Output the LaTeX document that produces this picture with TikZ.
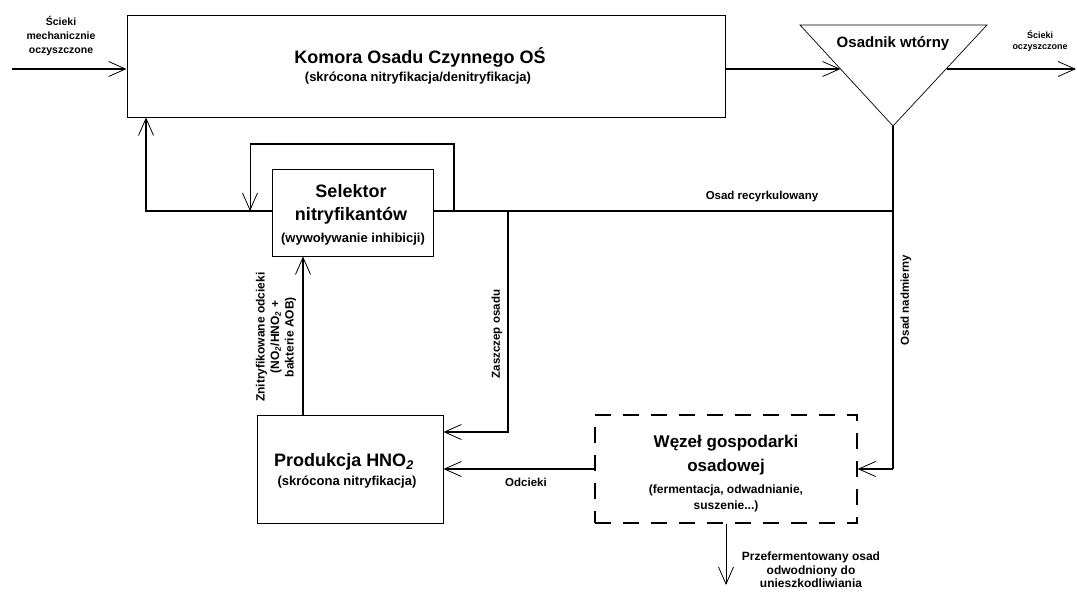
\documentclass[tikz,border=0pt]{standalone}
\usepackage{fontspec}
\setmainfont{Liberation Sans}
\usetikzlibrary{arrows.meta,calc}
\begin{document}
\begin{tikzpicture}[x=1pt,y=-1pt,
  box/.style={draw,line width=0.9pt,rectangle,inner sep=0pt},
  conn/.style={line width=1.6pt,-{Straight Barb[length=17pt,width=15pt,line width=0.8pt]}},
  thinconn/.style={line width=0.9pt,-{Straight Barb[length=17pt,width=15pt,line width=0.8pt]}},
  plain/.style={line width=1.6pt},
  lbl/.style={font=\bfseries\fontsize{11.5}{13.5}\selectfont,align=center,inner sep=0pt},
  big/.style={font=\bfseries\fontsize{18}{23}\selectfont,align=center,inner sep=0pt},
  sub/.style={font=\bfseries\fontsize{13}{16}\selectfont,align=center,inner sep=0pt}]
\useasboundingbox (0,0) rectangle (1077,592);
% main box
\node[box,minimum width=598pt,minimum height=102pt] (komora) at (426,66) {};
\node[big] (komt) at (420,57) {Komora Osadu Czynnego OŚ};
\node[sub] (koms) at (418,78) {(skrócona nitryfikacja/denitryfikacja)};
% osadnik
\coordinate (tl) at (800,25);
\coordinate (tr) at (987,25);
\coordinate (apex) at (893,126);
\draw[line width=0.7pt] (tl) -- (tr) -- (apex) -- cycle;
\node[big,font=\bfseries\fontsize{15}{18}\selectfont] (osadnik) at (893,44) {Osadnik wtórny};
\coordinate (trin) at (840.5,69);
\coordinate (trout) at (946.5,69);
% selector
\node[box,minimum width=161pt,minimum height=87pt] (sel) at (352.5,212.5) {};
\node[big] (selt) at (351,204.5) {Selektor\\nitryfikantów};
\node[sub] (sels) at (353,239) {(wywoływanie inhibicji)};
% produkcja
\node[box,minimum width=186pt,minimum height=108pt] (prod) at (350,469) {};
\node[big] (prodt) at (344,462) {Produkcja HNO\textsubscript{\itshape 2}};
\node[sub] (prods) at (347,482) {(skrócona nitryfikacja)};
% wezel
\node[box,dashed,line width=1.3pt,dash pattern=on 16pt off 12pt,minimum width=262pt,minimum height=108pt] (wezel) at (726,469) {};
\node[big,font=\bfseries\fontsize{17}{24}\selectfont] (wezt) at (726,455) {Węzeł gospodarki\\osadowej};
\node[sub,font=\bfseries\fontsize{12}{16}\selectfont] (wezs) at (726,498) {(fermentacja, odwadnianie,\\suszenie...)};
% coordinates
\coordinate (in) at (12,69);
\coordinate (out) at (1076,69);
\coordinate (j1) at (893,211);
\coordinate (j2) at (893,469);
\coordinate (k1) at (146,211);
\coordinate (l1) at (454,211);
\coordinate (l2) at (454,144);
\coordinate (l3) at (250,144);
\coordinate (l4) at (250,211);
\coordinate (z1) at (508,211);
\coordinate (z2) at (508,432);
\coordinate (n1) at (303,415);
\coordinate (wout) at (726,585);
% connectors
\draw[conn] (in) -- (in -| komora.west);
\draw[conn] (komora.east |- trin) -- (trin);
\draw[conn] (trout) -- (out);
\draw[plain] (apex) -- (j2);
\draw[conn] (j2) -- (wezel.east);
\draw[plain] (j1) -- (sel.east |- j1);
\draw[conn] (sel.west |- k1) -- (k1) -- (k1 |- komora.south);
\draw[plain,line join=miter] (l1) -- (l2) -- (l3);
\draw[thinconn] (l3) -- (l4);
\draw[conn] (z1) -- (z2) -- (z2 -| prod.east);
\draw[conn] (n1) -- (n1 |- sel.south);
\draw[conn] (wezel.west) -- (prod.east |- wezel.west);
\draw[thinconn] (wezel.south) -- (wout);
% labels
\node[lbl,font=\bfseries\fontsize{10.5}{14}\selectfont] at (61,36) {Ścieki\\mechanicznie\\oczyszczone};
\node[lbl,font=\bfseries\fontsize{9}{11}\selectfont] at (1040,41) {Ścieki\\oczyszczone};
\node[lbl] at (762,197) {Osad recyrkulowany};
\node[lbl,rotate=90] at (906,300) {Osad nadmierny};
\node[lbl,rotate=90] at (497,334) {Zaszczep osadu};
\node[lbl,rotate=90,font=\bfseries\fontsize{12}{14.5}\selectfont] at (276,337) {Znitryfikowane odcieki\\(NO\textsubscript{\itshape 2}/HNO\textsubscript{\itshape 2} +\\bakterie AOB)};
\node[lbl] at (526,482) {Odcieki};
\node[lbl,font=\bfseries\fontsize{12}{13.5}\selectfont] at (811,570) {Przefermentowany osad\\odwodniony do\\unieszkodliwiania};
\end{tikzpicture}
\end{document}
